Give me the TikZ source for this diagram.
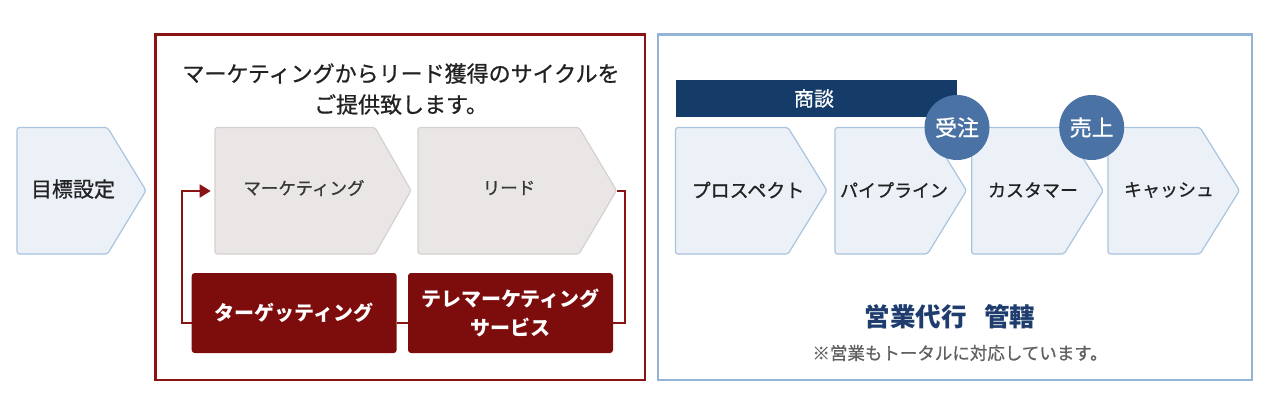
\documentclass[tikz,border=0pt]{standalone}
\usepackage{fontspec}
\setmainfont{Noto Sans CJK JP}
\newfontfamily\medf{Noto Sans CJK JP}[FakeBold=0.8]
\usetikzlibrary{arrows.meta}
\definecolor{cbfill}{HTML}{ECF1F7}
\definecolor{cbline}{HTML}{A9C4DE}
\definecolor{cgfill}{HTML}{EAE6E5}
\definecolor{cgline}{HTML}{D5D1D0}
\definecolor{dred}{HTML}{7D0C0C}
\definecolor{lred}{HTML}{8A1414}
\definecolor{bframe}{HTML}{93B3D7}
\definecolor{navy}{HTML}{153B69}
\definecolor{circ}{HTML}{4A72A5}
\definecolor{navytxt}{HTML}{1E3D6E}
\definecolor{txt}{HTML}{222222}
\newcommand\mychev[4]{\path[#1] (#2,127.5) -- (#3,127.5) -- (#4,190.5) -- (#3,254) -- (#2,254) -- cycle;}
\tikzset{
  chevB/.style={fill=cbfill, draw=cbline, line width=1.2pt, rounded corners=2.5pt, line join=round},
  chevG/.style={fill=cgfill, draw=cgline, line width=1.2pt, rounded corners=2.5pt, line join=round},
  ctext/.style={text=txt, inner sep=0pt, font=\medf\fontsize{18}{22}\selectfont},
  redbox/.style={fill=dred, rounded corners=3pt, minimum width=205pt, minimum height=80pt, inner sep=0pt, text=white, font=\bfseries\fontsize{20}{28.5}\selectfont, align=center},
  redline/.style={draw=lred, line width=1.8pt},
  badge/.style={circle, fill=circ, minimum size=65pt, inner sep=0pt, text=white, font=\medf\fontsize{22}{24}\selectfont},
}
\begin{document}
\begin{tikzpicture}[x=1pt,y=-1pt]
\useasboundingbox (0,0) rectangle (1274,420);
\fill[white] (0,0) rectangle (1274,420);
% frames
\draw[draw=lred, line width=2.6pt] (155.5,34.5) rectangle (645,380);
\draw[draw=bframe, line width=2.6pt] (658,34.5) rectangle (1252,380);
% left chevron
\mychev{chevB}{17}{107.5}{146}
\node[ctext, font=\medf\fontsize{21}{24}\selectfont] (goal) at (73,189) {目標設定};
% title
\node[text=txt, align=center, inner sep=0pt, font=\medf\fontsize{22}{31}\selectfont] (title) at (401,89) {マーケティングからリード獲得のサイクルを\\ご提供致します。};
% gray chevrons
\mychev{chevG}{215}{375}{411}
\mychev{chevG}{418}{579}{616.5}
\node[ctext, font=\medf\fontsize{17.5}{22}\selectfont, text=black!78] (mk) at (304,188) {マーケティング};
\node[ctext, font=\medf\fontsize{17.5}{22}\selectfont, text=black!78] (ld) at (509,188) {リード};
\coordinate (mkl) at (215,191);
\coordinate (ldtip) at (616.5,191);
% red boxes
\node[redbox] (tg) at (294.2,313) {\raisebox{1.5pt}{ターゲッティング}};
\node[redbox] (tm) at (510.5,313) {テレマーケティング\\サービス};
% loop connectors
\draw[redline, -{Triangle[length=11pt,width=13pt]}, shorten >=4.3pt] ([yshift=-10pt]tg.west) -| (181.7,191) -- (mkl);
\draw[redline] ([yshift=-10pt]tg.east) -- ([yshift=-10pt]tm.west);
\draw[redline] ([yshift=-10pt]tm.east) -| (625,191) -- (ldtip);
% right side
\fill[navy] (676,80) rectangle (957,116.5);
\node[text=white, inner sep=0pt, font=\medf\fontsize{20}{22}\selectfont] (shodan) at (814,98.5) {商談};
\mychev{chevB}{675.5}{788}{827}
\mychev{chevB}{835}{927.5}{966.5}
\mychev{chevB}{971.7}{1064}{1103.3}
\mychev{chevB}{1108}{1200}{1239.5}
\node[ctext, font=\medf\fontsize{19}{22}\selectfont] (pr) at (748,190) {プロスペクト};
\node[ctext] (pl) at (894,190) {パイプライン};
\node[ctext] (cu) at (1033,190) {カスタマー};
\node[ctext] (ca) at (1169,190) {キャッシュ};
\node[badge] (ju) at (957,127.5) {受注};
\node[badge] (ur) at (1091.7,127.5) {売上};
\node[text=navytxt, inner sep=0pt, font=\bfseries\fontsize{25.5}{28}\selectfont] (eigyo) at (950,317) {営業代行\hspace{18pt}管轄};
\node[text=black!62, inner sep=0pt, font=\medf\fontsize{17.5}{20}\selectfont] (note) at (960,353) {※営業もトータルに対応しています。};
\end{tikzpicture}
\end{document}
